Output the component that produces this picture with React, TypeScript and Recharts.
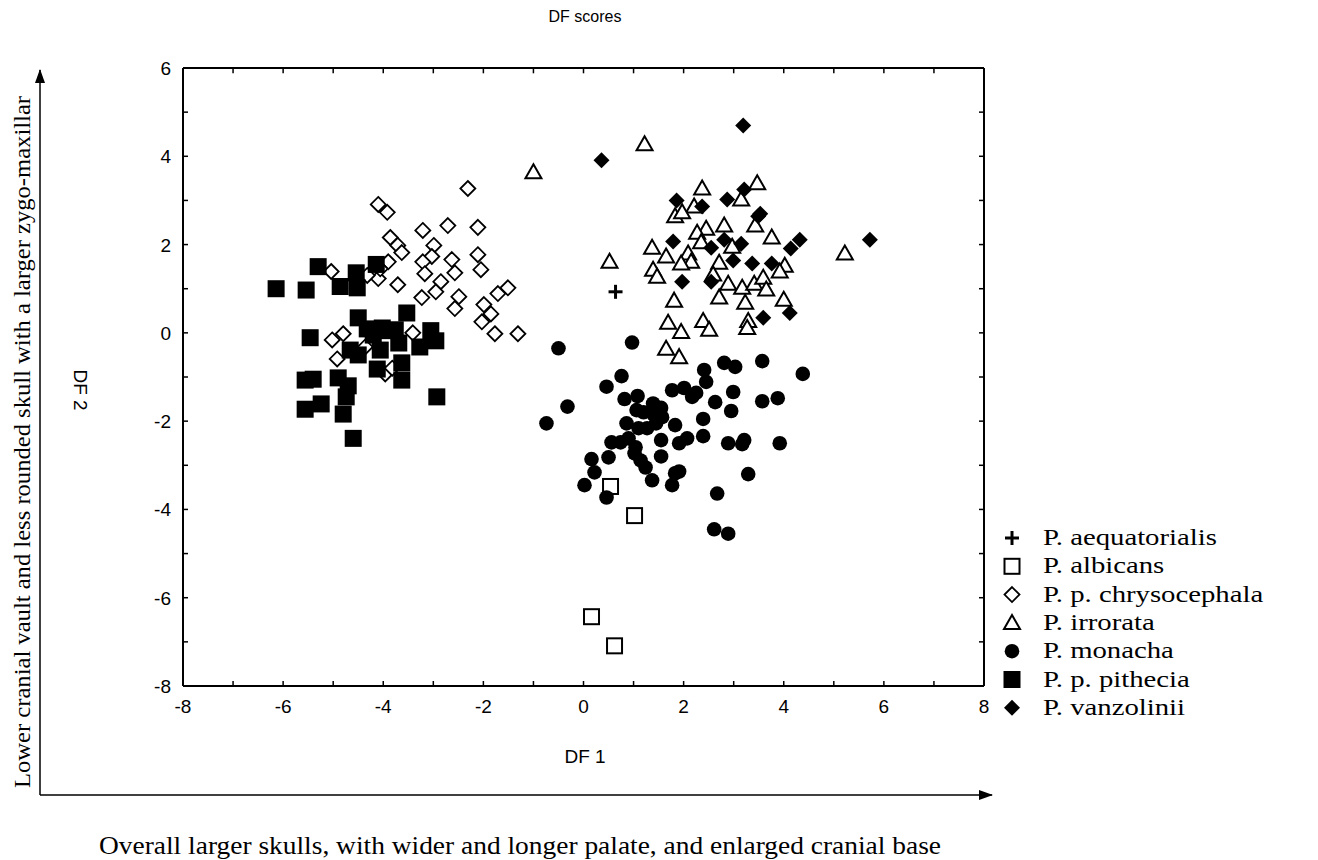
import React from 'react';
import { ScatterChart, Scatter, XAxis, YAxis, ReferenceLine } from 'recharts';

// DF scores per species as [DF1, DF2]
const aequatorialis: [number, number][] = [[0.64, 0.93]];

const albicans: [number, number][] = [
  [0.54, -3.48], [1.02, -4.14], [0.16, -6.43], [0.62, -7.09],
];

const chrysocephala: [number, number][] = [
  [-2.31, 3.27], [-4.1, 2.91], [-3.92, 2.73], [-3.21, 2.32], [-2.71, 2.43], [-2.11, 2.39],
  [-3.86, 2.16], [-3.71, 1.98], [-3.63, 1.82], [-2.99, 1.98], [-3.03, 1.73], [-3.21, 1.61],
  [-3.9, 1.61], [-2.63, 1.66], [-2.11, 1.77], [-5.04, 1.39], [-4.1, 1.23], [-3.17, 1.34],
  [-2.57, 1.36], [-2.05, 1.43], [-3.71, 1.09], [-2.85, 1.16], [-2.95, 0.93], [-3.23, 0.8],
  [-2.49, 0.82], [-2.57, 0.55], [-1.51, 1.02], [-1.71, 0.89], [-1.99, 0.64], [-1.85, 0.43],
  [-2.03, 0.25], [-1.77, -0.02], [-1.31, -0.02], [-5.02, -0.16], [-4.8, -0.02], [-4.92, -0.59],
  [-4.36, -0.32], [-3.41, 0.0], [-3.96, -0.93], [-3.82, -0.8], [-4.32, 1.3], [-4.06, 1.45],
];

const irrorata: [number, number][] = [
  [1.22, 4.27], [-1.0, 3.64], [0.52, 1.61], [2.37, 3.27], [3.47, 3.39], [3.15, 3.02],
  [2.21, 2.86], [1.83, 2.64], [1.97, 2.73], [2.81, 2.43], [2.45, 2.36], [2.27, 2.27],
  [3.43, 2.43], [3.76, 2.16], [2.35, 2.05], [2.97, 1.95], [1.37, 1.93], [1.65, 1.73],
  [2.09, 1.8], [2.15, 1.61], [1.95, 1.57], [1.39, 1.43], [1.47, 1.27], [2.71, 1.59],
  [2.59, 1.32], [2.89, 1.11], [3.17, 1.02], [3.41, 1.11], [3.59, 1.25], [3.65, 0.98],
  [4.02, 1.52], [3.92, 1.39], [2.71, 0.8], [3.23, 0.68], [4.0, 0.75], [1.81, 0.73],
  [1.69, 0.23], [1.95, 0.02], [2.39, 0.27], [2.51, 0.07], [3.29, 0.27], [3.27, 0.11],
  [5.22, 1.8], [1.65, -0.36], [1.91, -0.55],
];

const monacha: [number, number][] = [
  [-0.5, -0.35], [0.97, -0.22], [-0.74, -2.05], [-0.32, -1.67], [0.76, -0.98], [0.46, -1.22],
  [0.82, -1.5], [1.08, -1.43], [1.06, -1.75], [1.39, -1.6], [1.55, -1.7], [1.57, -1.91],
  [1.45, -2.05], [1.27, -2.16], [1.1, -2.16], [0.86, -2.05], [0.56, -2.48], [0.74, -2.48],
  [0.9, -2.39], [0.16, -2.86], [0.22, -3.16], [0.02, -3.45], [0.46, -3.73], [0.5, -2.82],
  [1.02, -2.73], [1.14, -2.89], [1.24, -3.05], [1.37, -3.34], [1.55, -2.43], [1.55, -2.8],
  [1.83, -2.09], [1.77, -1.3], [2.01, -1.25], [2.17, -1.45], [2.25, -1.36], [2.41, -0.84],
  [2.45, -1.11], [2.81, -0.68], [3.03, -0.77], [3.57, -0.64], [4.38, -0.93], [2.63, -1.57],
  [2.99, -1.34], [2.95, -1.77], [2.39, -1.95], [2.39, -2.34], [1.91, -2.5], [2.07, -2.39],
  [3.57, -1.55], [3.88, -1.48], [2.89, -2.5], [3.21, -2.43], [3.17, -2.52], [3.92, -2.5],
  [1.91, -3.14], [1.83, -3.18], [1.77, -3.45], [3.29, -3.2], [2.67, -3.64], [2.61, -4.45],
  [2.89, -4.55], [1.04, -2.59], [1.2, -1.8], [1.4, -1.85],
];

const pithecia: [number, number][] = [
  [-6.14, 1.0], [-5.54, 0.97], [-5.3, 1.5], [-4.86, 1.05], [-4.54, 1.36], [-4.52, 1.02],
  [-4.14, 1.55], [-5.46, -0.11], [-4.5, 0.34], [-4.32, 0.09], [-4.02, 0.11], [-3.76, 0.07],
  [-3.53, 0.45], [-3.05, 0.05], [-2.95, -0.18], [-3.27, -0.32], [-3.69, -0.23], [-4.06, -0.39],
  [-4.66, -0.39], [-4.5, -0.5], [-4.12, -0.82], [-3.63, -0.68], [-3.63, -1.07], [-5.56, -1.07],
  [-5.4, -1.05], [-4.9, -1.02], [-4.7, -1.2], [-2.93, -1.45], [-5.56, -1.73], [-5.24, -1.61],
  [-4.74, -1.45], [-4.8, -1.84], [-4.6, -2.39], [-3.9, 0.05], [-4.2, -0.05],
];

const vanzolinii: [number, number][] = [
  [0.36, 3.91], [3.19, 4.7], [1.86, 3.0], [2.37, 2.86], [2.87, 3.02], [3.21, 3.25],
  [3.53, 2.7], [3.49, 2.64], [4.32, 2.11], [4.14, 1.91], [5.72, 2.11], [1.79, 2.07],
  [2.55, 1.93], [2.81, 2.11], [3.15, 2.02], [2.99, 1.64], [3.37, 1.57], [3.76, 1.57],
  [1.97, 1.16], [2.55, 1.16], [3.59, 0.34], [4.12, 0.45],
];

const X_TICKS = [-8, -7, -6, -5, -4, -3, -2, -1, 0, 1, 2, 3, 4, 5, 6, 7, 8];
const Y_TICKS = [-8, -7, -6, -5, -4, -3, -2, -1, 0, 1, 2, 3, 4, 5, 6];
const X_MAX = 8;
const Y_MAX = 6;

const SANS = '"Liberation Sans", Arial, sans-serif';
const SERIF = '"Liberation Serif", "Times New Roman", serif';

type Pt = { cx?: number; cy?: number };

const Cross = ({ cx = 0, cy = 0 }: Pt) => (
  <g stroke="#000" strokeWidth={3}>
    <line x1={cx - 7} y1={cy} x2={cx + 7} y2={cy} />
    <line x1={cx} y1={cy - 7} x2={cx} y2={cy + 7} />
  </g>
);
const OpenSquare = ({ cx = 0, cy = 0 }: Pt) => (
  <rect x={cx - 7.5} y={cy - 7.5} width={15} height={15} fill="#fff" stroke="#000" strokeWidth={2} />
);
const OpenDiamond = ({ cx = 0, cy = 0 }: Pt) => (
  <path d={`M${cx},${cy - 7.5} L${cx + 7.5},${cy} L${cx},${cy + 7.5} L${cx - 7.5},${cy} Z`} fill="#fff" stroke="#000" strokeWidth={1.8} />
);
const OpenTriangle = ({ cx = 0, cy = 0 }: Pt) => (
  <path d={`M${cx},${cy - 8} L${cx + 8},${cy + 6} L${cx - 8},${cy + 6} Z`} fill="#fff" stroke="#000" strokeWidth={2} />
);
const Dot = ({ cx = 0, cy = 0 }: Pt) => <circle cx={cx} cy={cy} r={7.3} fill="#000" />;
const FilledSquare = ({ cx = 0, cy = 0 }: Pt) => (
  <rect x={cx - 8.5} y={cy - 8.5} width={17} height={17} fill="#000" />
);
const FilledDiamond = ({ cx = 0, cy = 0 }: Pt) => (
  <path d={`M${cx},${cy - 8} L${cx + 8},${cy} L${cx},${cy + 8} L${cx - 8},${cy} Z`} fill="#000" />
);

const SERIES = [
  { name: 'P. aequatorialis', data: aequatorialis, Shape: Cross },
  { name: 'P. albicans', data: albicans, Shape: OpenSquare },
  { name: 'P. p. chrysocephala', data: chrysocephala, Shape: OpenDiamond },
  { name: 'P. irrorata', data: irrorata, Shape: OpenTriangle },
  { name: 'P. monacha', data: monacha, Shape: Dot },
  { name: 'P. p. pithecia', data: pithecia, Shape: FilledSquare },
  { name: 'P. vanzolinii', data: vanzolinii, Shape: FilledDiamond },
];

const BottomTick = ({ x, y, payload }: any) => (
  <g>
    <line x1={x} y1={y} x2={x} y2={y - 5} stroke="#000" strokeWidth={1.5} />
    {payload.value % 2 === 0 && (
      <text x={x} y={y + 27} textAnchor="middle" fontFamily={SANS} fontSize={19} fill="#000">
        {payload.value}
      </text>
    )}
  </g>
);
const LeftTick = ({ x, y, payload }: any) => (
  <g>
    <line x1={x} y1={y} x2={x + 5} y2={y} stroke="#000" strokeWidth={1.5} />
    {payload.value % 2 === 0 && (
      <text x={x - 12} y={y + 7} textAnchor="end" fontFamily={SANS} fontSize={19} fill="#000">
        {payload.value}
      </text>
    )}
  </g>
);

const axisLine = { stroke: '#000', strokeWidth: 2 };

export default function App() {
  return (
    <div style={{ position: 'relative', width: 1302, height: 852 }}>
      <svg width={1302} height={852} style={{ position: 'absolute', left: 0, top: 0 }}>
        <defs>
          <marker id="arr" markerWidth="14" markerHeight="10" refX="13" refY="5" orient="auto" markerUnits="userSpaceOnUse">
            <path d="M0,0 L14,5 L0,10 Z" fill="#000" />
          </marker>
        </defs>
        <text x={577} y={14} textAnchor="middle" fontFamily={SANS} fontSize={16}>DF scores</text>
        <text x={577} y={755} textAnchor="middle" fontFamily={SANS} fontSize={19}>DF 1</text>
        <text x={66} y={382} textAnchor="middle" fontFamily={SANS} fontSize={19} transform="rotate(90 66 382)">DF 2</text>
        <line x1={32} y1={787} x2={32} y2={62} stroke="#000" strokeWidth={1.5} markerEnd="url(#arr)" />
        <line x1={32} y1={787} x2={984} y2={787} stroke="#000" strokeWidth={1.5} markerEnd="url(#arr)" />
        <text x={22} y={434} textAnchor="middle" fontFamily={SERIF} fontSize={24} textLength={692}
          lengthAdjust="spacingAndGlyphs" transform="rotate(-90 22 434)">
          Lower cranial vault and less rounded skull with a larger zygo-maxillar
        </text>
        <text x={512} y={846} textAnchor="middle" fontFamily={SERIF} fontSize={25} textLength={842}
          lengthAdjust="spacingAndGlyphs">
          Overall larger skulls, with wider and longer palate, and enlarged cranial base
        </text>
        {SERIES.map(({ name, Shape }, i) => (
          <g key={name}>
            <Shape cx={1004} cy={530 + i * 28.3} />
            <text fontFamily={SERIF} fontSize={23} transform={`translate(1035 ${530 + i * 28.3 + 7}) scale(1.25 1)`}>
              {name}
            </text>
          </g>
        ))}
      </svg>
      <div style={{ position: 'absolute', left: 0, top: 0 }}>
        <ScatterChart width={1302} height={852} margin={{ top: 60, right: 326, bottom: 144, left: 125 }}>
          <XAxis xAxisId="b" type="number" dataKey="x" domain={[-8, X_MAX]} ticks={X_TICKS} interval={0}
            allowDataOverflow height={30} tickSize={0} tickMargin={0} tickLine={false} axisLine={axisLine} tick={<BottomTick />} />
          <YAxis yAxisId="l" type="number" dataKey="y" domain={[-8, Y_MAX]} ticks={Y_TICKS} interval={0}
            allowDataOverflow width={50} tickSize={0} tickMargin={0} tickLine={false} axisLine={axisLine} tick={<LeftTick />} />
          {/* top and right sides of the frame */}
          <ReferenceLine xAxisId="b" yAxisId="l" y={Y_MAX} stroke="#000" strokeWidth={2} />
          <ReferenceLine xAxisId="b" yAxisId="l" x={X_MAX} stroke="#000" strokeWidth={2} />
          {/* inward ticks on the top and right sides */}
          {X_TICKS.slice(1, -1).map((t) => (
            <ReferenceLine key={`tx${t}`} xAxisId="b" yAxisId="l" stroke="#000" strokeWidth={1.5}
              segment={[{ x: t, y: Y_MAX }, { x: t, y: Y_MAX - 0.12 }]} />
          ))}
          {Y_TICKS.slice(1, -1).map((t) => (
            <ReferenceLine key={`ty${t}`} xAxisId="b" yAxisId="l" stroke="#000" strokeWidth={1.5}
              segment={[{ x: X_MAX, y: t }, { x: X_MAX - 0.1, y: t }]} />
          ))}
          {SERIES.map(({ name, data, Shape }) => (
            <Scatter
              key={name}
              name={name}
              xAxisId="b"
              yAxisId="l"
              data={data.map(([x, y]) => ({ x, y }))}
              isAnimationActive={false}
              shape={(p: any) => <Shape cx={p.cx} cy={p.cy} />}
            />
          ))}
        </ScatterChart>
      </div>
    </div>
  );
}
